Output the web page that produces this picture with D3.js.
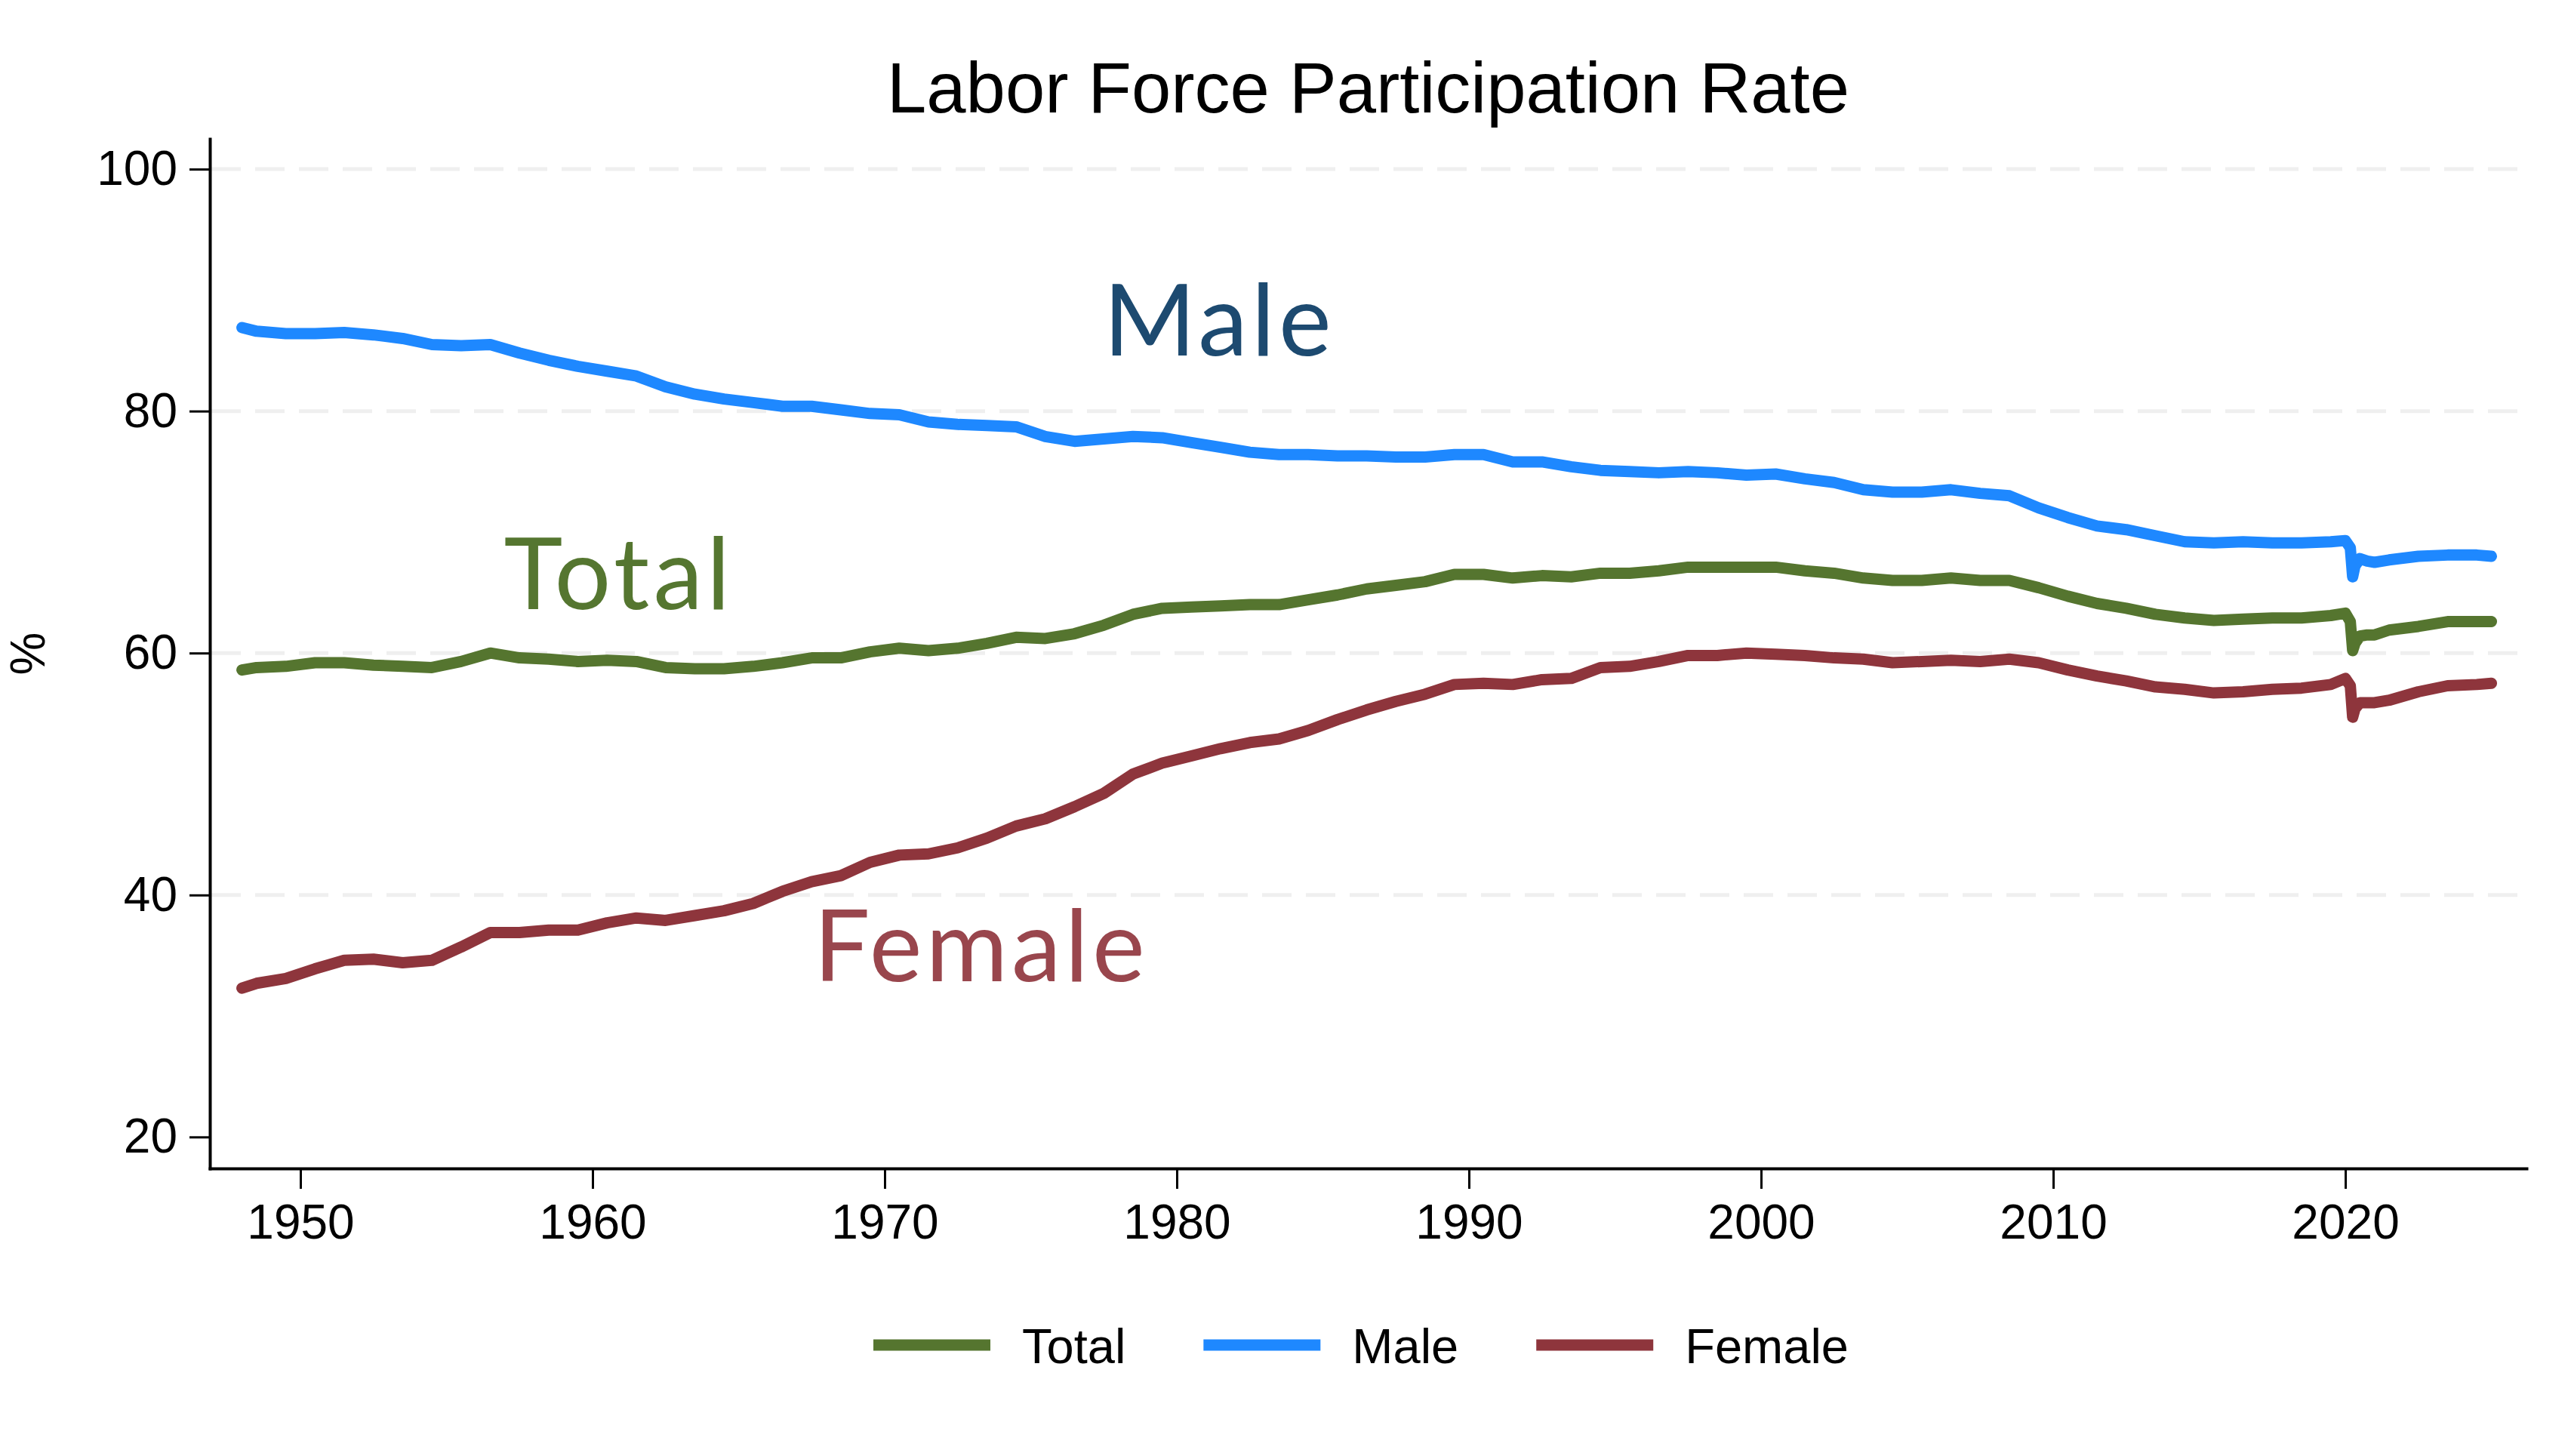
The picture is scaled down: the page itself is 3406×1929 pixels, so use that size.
<!DOCTYPE html>
<html>
<head>
<meta charset="utf-8">
<script src="https://cdn.jsdelivr.net/npm/d3@7"></script>
<style>
body { margin: 0; background: #fff; }
svg { display: block; }
</style>
</head>
<body>
<svg id="chart"></svg>
<script>
var width = 3406,
    height = 1929;

// dates as decimal years (annual readings at mid-year, monthly around 2020)
var dates = [1948.0, 1948.5, 1949.5, 1950.5, 1951.5, 1952.5, 1953.5, 1954.5, 1955.5, 1956.5, 1957.5,
    1958.5, 1959.5, 1960.5, 1961.5, 1962.5, 1963.5, 1964.5, 1965.5, 1966.5, 1967.5,
    1968.5, 1969.5, 1970.5, 1971.5, 1972.5, 1973.5, 1974.5, 1975.5, 1976.5, 1977.5,
    1978.5, 1979.5, 1980.5, 1981.5, 1982.5, 1983.5, 1984.5, 1985.5, 1986.5, 1987.5,
    1988.5, 1989.5, 1990.5, 1991.5, 1992.5, 1993.5, 1994.5, 1995.5, 1996.5, 1997.5,
    1998.5, 1999.5, 2000.5, 2001.5, 2002.5, 2003.5, 2004.5, 2005.5, 2006.5, 2007.5,
    2008.5, 2009.5, 2010.5, 2011.5, 2012.5, 2013.5, 2014.5, 2015.5, 2016.5, 2017.5,
    2018.5, 2019.5, 2020.0, 2020.17, 2020.25, 2020.33, 2020.5, 2020.75, 2021.0,
    2021.5, 2022.5, 2023.5, 2024.5, 2025.0];

var total = [58.6, 58.8, 58.9, 59.2, 59.2, 59.0, 58.9, 58.8, 59.3, 60.0, 59.6,
    59.5, 59.3, 59.4, 59.3, 58.8, 58.7, 58.7, 58.9, 59.2, 59.6,
    59.6, 60.1, 60.4, 60.2, 60.4, 60.8, 61.3, 61.2, 61.6, 62.3,
    63.2, 63.7, 63.8, 63.9, 64.0, 64.0, 64.4, 64.8, 65.3, 65.6,
    65.9, 66.5, 66.5, 66.2, 66.4, 66.3, 66.6, 66.6, 66.8, 67.1,
    67.1, 67.1, 67.1, 66.8, 66.6, 66.2, 66.0, 66.0, 66.2, 66.0,
    66.0, 65.4, 64.7, 64.1, 63.7, 63.2, 62.9, 62.7, 62.8, 62.9,
    62.9, 63.1, 63.3, 62.6, 60.2, 60.8, 61.4, 61.5, 61.5,
    61.9, 62.2, 62.6, 62.6, 62.6];

var male = [86.9, 86.6, 86.4, 86.4, 86.5, 86.3, 86.0, 85.5, 85.4, 85.5, 84.8,
    84.2, 83.7, 83.3, 82.9, 82.0, 81.4, 81.0, 80.7, 80.4, 80.4,
    80.1, 79.8, 79.7, 79.1, 78.9, 78.8, 78.7, 77.9, 77.5, 77.7,
    77.9, 77.8, 77.4, 77.0, 76.6, 76.4, 76.4, 76.3, 76.3, 76.2,
    76.2, 76.4, 76.4, 75.8, 75.8, 75.4, 75.1, 75.0, 74.9, 75.0,
    74.9, 74.7, 74.8, 74.4, 74.1, 73.5, 73.3, 73.3, 73.5, 73.2,
    73.0, 72.0, 71.2, 70.5, 70.2, 69.7, 69.2, 69.1, 69.2, 69.1,
    69.1, 69.2, 69.3, 68.7, 66.3, 67.2, 67.8, 67.6, 67.5,
    67.7, 68.0, 68.1, 68.1, 68.0];

var female = [32.3, 32.7, 33.1, 33.9, 34.6, 34.7, 34.4, 34.6, 35.7, 36.9, 36.9,
    37.1, 37.1, 37.7, 38.1, 37.9, 38.3, 38.7, 39.3, 40.3, 41.1,
    41.6, 42.7, 43.3, 43.4, 43.9, 44.7, 45.7, 46.3, 47.3, 48.4,
    50.0, 50.9, 51.5, 52.1, 52.6, 52.9, 53.6, 54.5, 55.3, 56.0,
    56.6, 57.4, 57.5, 57.4, 57.8, 57.9, 58.8, 58.9, 59.3, 59.8,
    59.8, 60.0, 59.9, 59.8, 59.6, 59.5, 59.2, 59.3, 59.4, 59.3,
    59.5, 59.2, 58.6, 58.1, 57.7, 57.2, 57.0, 56.7, 56.8, 57.0,
    57.1, 57.4, 57.9, 57.3, 54.7, 55.4, 55.9, 55.9, 55.9,
    56.1, 56.8, 57.3, 57.4, 57.5];

var seriesNames = ["Total", "Male", "Female"];
var lineColors = ["#55752f", "#1e88ff", "#8e353c"];
var labelColors = ["#557630", "#1d4a70", "#99464d"];
// where the big in-plot labels sit (year, value of baseline)
var labelYears = [1960.85, 1981.4, 1973.25];
var labelValues = [63.6, 84.6, 32.85];

var xTicks = [1950, 1960, 1970, 1980, 1990, 2000, 2010, 2020];
var yTicks = [20, 40, 60, 80, 100];
var gridTicks = [40, 60, 80, 100];

var svg = d3.select("#chart")
    .attr("width", width)
    .attr("height", height);

var x = d3.scaleLinear()
    .domain([1946.9, 2026.2])
    .range([278, 3347]);

var y = d3.scaleLinear()
    .domain([17.4, 102.5])
    .range([1548, 184]);

var fontMain = "'Liberation Sans', Arial, Helvetica, sans-serif";

// gridlines
svg.append("g")
    .selectAll("line")
    .data(gridTicks)
    .enter().append("line")
        .attr("x1", x.range()[0] + 2)
        .attr("x2", x.range()[1])
        .attr("y1", function(d) { return y(d); })
        .attr("y2", function(d) { return y(d); })
        .attr("stroke", "#efefef")
        .attr("stroke-width", 5)
        .attr("stroke-dasharray", "39,19");

// series lines
var series = [total, male, female];
var line = d3.line()
    .x(function(d) { return x(d[0]); })
    .y(function(d) { return y(d[1]); });

series.forEach(function(vals, i) {
    var pts = dates.map(function(t, j) { return [t, vals[j]]; });
    svg.append("path")
        .datum(pts)
        .attr("d", line)
        .attr("fill", "none")
        .attr("stroke", lineColors[i])
        .attr("stroke-width", 15)
        .attr("stroke-linejoin", "round")
        .attr("stroke-linecap", "round");
});

// axes
var xAxis = svg.append("g")
    .attr("transform", "translate(0," + y.range()[0] + ")")
    .call(d3.axisBottom(x)
        .tickValues(xTicks)
        .tickFormat(d3.format("d"))
        .tickSize(27)
        .tickSizeOuter(0)
        .tickPadding(21));

var yAxis = svg.append("g")
    .attr("transform", "translate(" + x.range()[0] + ",0)")
    .call(d3.axisLeft(y)
        .tickValues(yTicks)
        .tickSize(27)
        .tickSizeOuter(0)
        .tickPadding(16));

[xAxis, yAxis].forEach(function(ax) {
    ax.select(".domain").attr("stroke", "#000").attr("stroke-width", 4).attr("stroke-linecap", "square");
    ax.selectAll(".tick line").attr("stroke", "#000").attr("stroke-width", 3);
    ax.selectAll(".tick text")
        .attr("fill", "#000")
        .style("font-family", fontMain)
        .style("font-size", "64px");
});

// title
svg.append("text")
    .attr("x", (x.range()[0] + x.range()[1]) / 2)
    .attr("y", 149)
    .attr("text-anchor", "middle")
    .style("font-family", fontMain)
    .style("font-size", "94px")
    .text("Labor Force Participation Rate");

// y axis title
svg.append("text")
    .attr("transform", "translate(59," + ((y.range()[0] + y.range()[1]) / 2) + ") rotate(-90)")
    .attr("text-anchor", "middle")
    .style("font-family", fontMain)
    .style("font-size", "64px")
    .text("%");

// in-plot labels
seriesNames.forEach(function(name, i) {
    svg.append("text")
        .attr("x", x(labelYears[i]) + 2)
        .attr("y", y(labelValues[i]))
        .attr("text-anchor", "middle")
        .attr("fill", labelColors[i])
        .style("font-family", "Lato, 'Noto Sans', sans-serif")
        .style("font-size", "132px")
        .style("letter-spacing", "5px")
        .text(name);
});

// legend
var legend = svg.append("g");
var lx = 0;
seriesNames.forEach(function(name, i) {
    legend.append("line")
        .attr("x1", lx)
        .attr("x2", lx + 155)
        .attr("y1", 1782)
        .attr("y2", 1782)
        .attr("stroke", lineColors[i])
        .attr("stroke-width", 15);
    var t = legend.append("text")
        .attr("x", lx + 197)
        .attr("y", 1806)
        .style("font-family", fontMain)
        .style("font-size", "65px")
        .text(name);
    lx += 197 + t.node().getComputedTextLength() + 103;
});
var legendWidth = lx - 103;
legend.attr("transform", "translate(" + (1803 - legendWidth / 2) + ",0)");
</script>
</body>
</html>
